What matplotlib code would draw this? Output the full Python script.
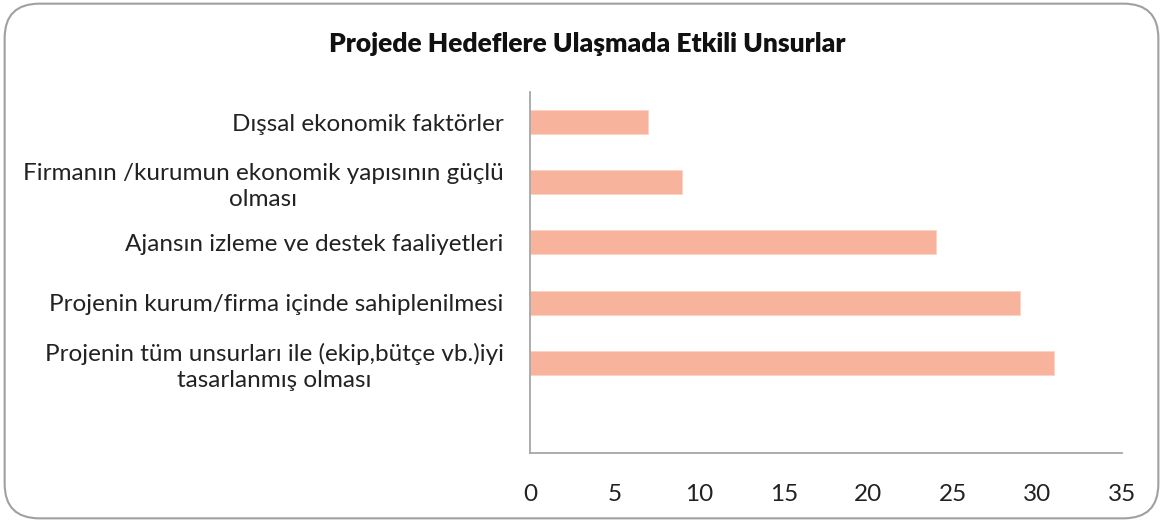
import matplotlib.pyplot as plt
from matplotlib.patches import FancyBboxPatch

plt.rcParams['font.family'] = ['Lato', 'DejaVu Sans']

categories = [
    "Dışsal ekonomik faktörler",
    "Firmanın /kurumun ekonomik yapısının güçlü\nolması",
    "Ajansın izleme ve destek faaliyetleri",
    "Projenin kurum/firma içinde sahiplenilmesi",
    "Projenin tüm unsurları ile (ekip,bütçe vb.)iyi\ntasarlanmış olması",
]
values = [7, 9, 24, 29, 31]
x_ticks = [0, 5, 10, 15, 20, 25, 30, 35]

fig = plt.figure(figsize=(11.63, 5.22), dpi=100)
ax = fig.add_axes([0.4557, 0.1322, 0.509, 0.6916])

pos = list(range(len(categories)))
ax.barh(pos, values, height=0.4, color='#F7B39B', edgecolor='#FAD3C4', linewidth=0.6)

ax.set_ylim(5.5, -0.5)
ax.set_xlim(0, 35)
ax.set_xticks(x_ticks)
ax.set_xticklabels([str(t) for t in x_ticks], fontsize=17.5, color='#222222')
ax.set_yticks(pos)
ax.set_yticklabels(categories, fontsize=17.5, color='#222222', multialignment='center',
                   linespacing=1.3)
ax.tick_params(axis='x', length=0, pad=22)
ax.tick_params(axis='y', length=0, pad=19)

for s in ['top', 'right']:
    ax.spines[s].set_visible(False)
for s in ['left', 'bottom']:
    ax.spines[s].set_color('#A6A6A6')
    ax.spines[s].set_linewidth(1.3)

fig.text(0.505, 0.915, "Projede Hedeflere Ulaşmada Etkili Unsurlar", ha='center', va='center',
         fontsize=19, fontweight='heavy', color='#111111')

border = FancyBboxPatch((0.004, 0.007), 0.992, 0.986, boxstyle="round,pad=0,rounding_size=0.03",
                        transform=fig.transFigure, facecolor='none', edgecolor='#A0A0A0',
                        linewidth=1.5, mutation_aspect=2.2)
fig.patches.append(border)

plt.savefig('out.png', dpi=100)
